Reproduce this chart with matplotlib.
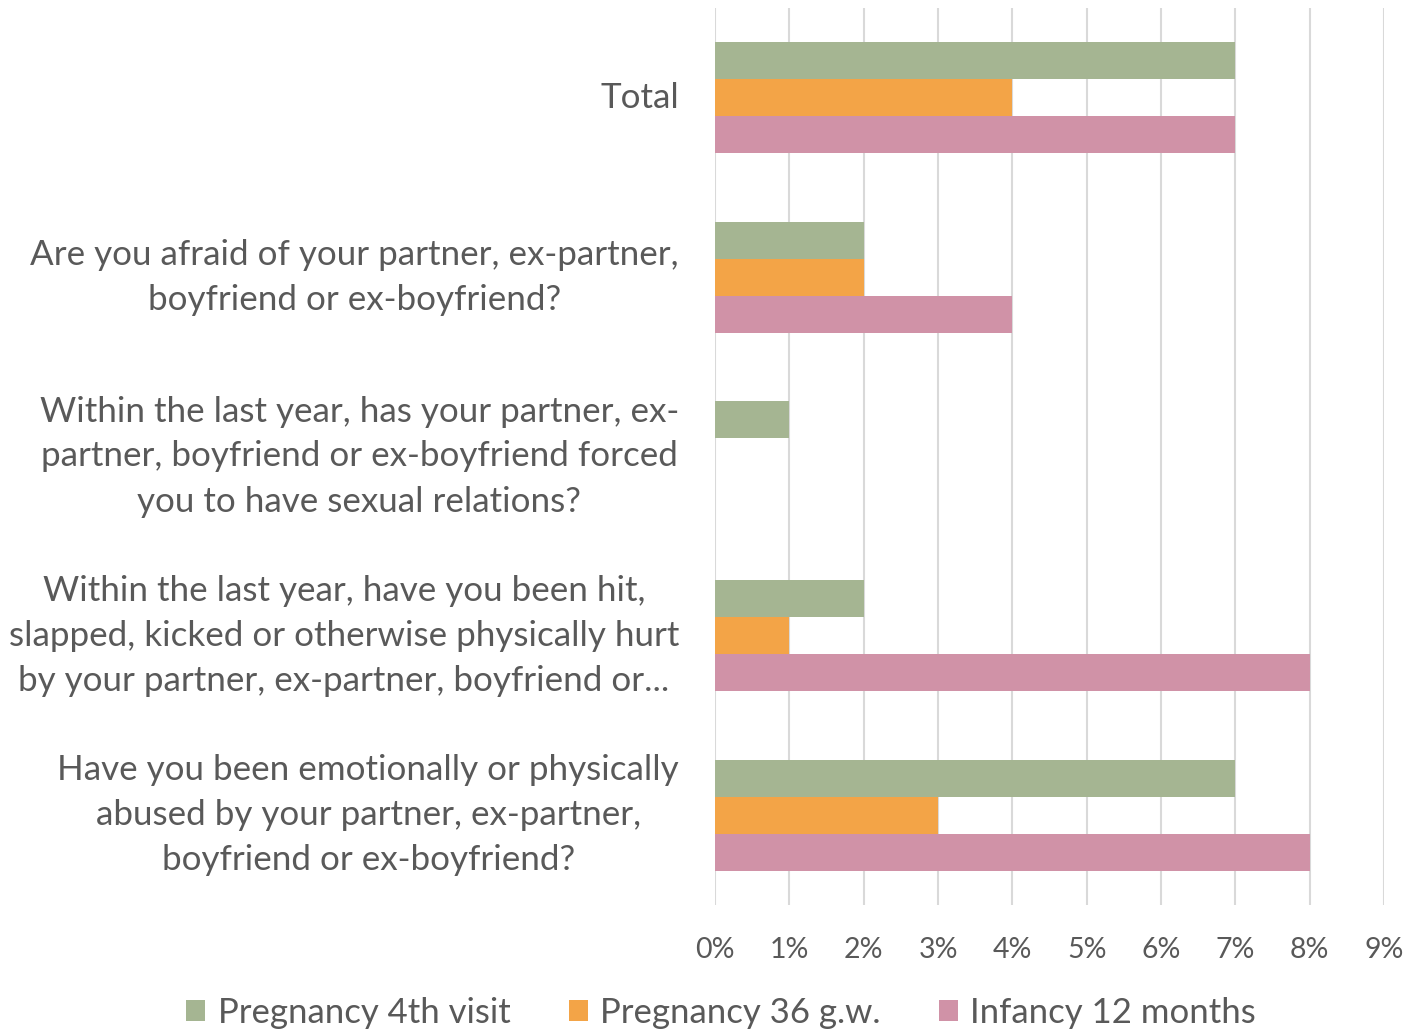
import matplotlib
matplotlib.use("Agg")
import matplotlib.pyplot as plt
import matplotlib.transforms as mtransforms
import numpy as np

plt.rcParams['font.family'] = ['Lato', 'DejaVu Sans']

categories = [
    "Total",
    "Are you afraid of your partner, ex-partner,\nboyfriend or ex-boyfriend?",
    "Within the last year, has your partner, ex-\npartner, boyfriend or ex-boyfriend forced\nyou to have sexual relations?",
    "Within the last year, have you been hit,\nslapped, kicked or otherwise physically hurt\nby your partner, ex-partner, boyfriend or...",
    "Have you been emotionally or physically\nabused by your partner, ex-partner,\nboyfriend or ex-boyfriend?",
]
series_names = ["Pregnancy 4th visit", "Pregnancy 36 g.w.", "Infancy 12 months"]
pregnancy_4th = [7, 2, 1, 2, 7]
pregnancy_36 = [4, 2, 0, 1, 3]
infancy_12 = [7, 4, 0, 8, 8]
x_ticks = list(range(0, 10))
x_tick_labels = [f"{v}%" for v in x_ticks]

colors = ["#A5B592", "#F3A447", "#D092A7"]
text_color = "#595959"

fig = plt.figure(figsize=(14.11, 10.34), dpi=100)
ax = fig.add_axes([715 / 1411, 1 - 905 / 1034, 669 / 1411, 897 / 1034])

y = np.arange(len(categories))
h = 0.206
for i, (vals, col, name) in enumerate(zip([pregnancy_4th, pregnancy_36, infancy_12], colors, series_names)):
    ax.barh(y + (i - 1) * h, vals, height=h, color=col, label=name, zorder=3)

ax.set_xlim(0, 9)
ax.set_ylim(len(categories) - 0.5, -0.5)
ax.set_xticks(x_ticks)
ax.set_xticklabels(x_tick_labels, fontsize=20.5, color=text_color)
ax.set_yticks(y)
ax.set_yticklabels([])

# Category labels, right-aligned beside the axis, lines centred on each other
label_trans = mtransforms.blended_transform_factory(ax.transAxes, ax.transData)
for yi, cat in zip(y, categories):
    ax.text(-36 / 669, yi, cat, transform=label_trans, ha='right', va='center',
            multialignment='center', linespacing=1.5, fontsize=25.2, color=text_color)

ax.tick_params(axis='both', length=0)
ax.tick_params(axis='x', pad=23)
ax.grid(axis='x', color="#D9D9D9", linewidth=1.5, zorder=0)
for s in ax.spines.values():
    s.set_visible(False)

leg = fig.legend(loc='center', bbox_to_anchor=(721 / 1411, 1 - 1013 / 1034), ncol=3,
                 frameon=False, fontsize=25, handlelength=0.55, handleheight=0.55,
                 handletextpad=0.35, columnspacing=1.68)
for t in leg.get_texts():
    t.set_color(text_color)

fig.savefig("out.png", dpi=100)
